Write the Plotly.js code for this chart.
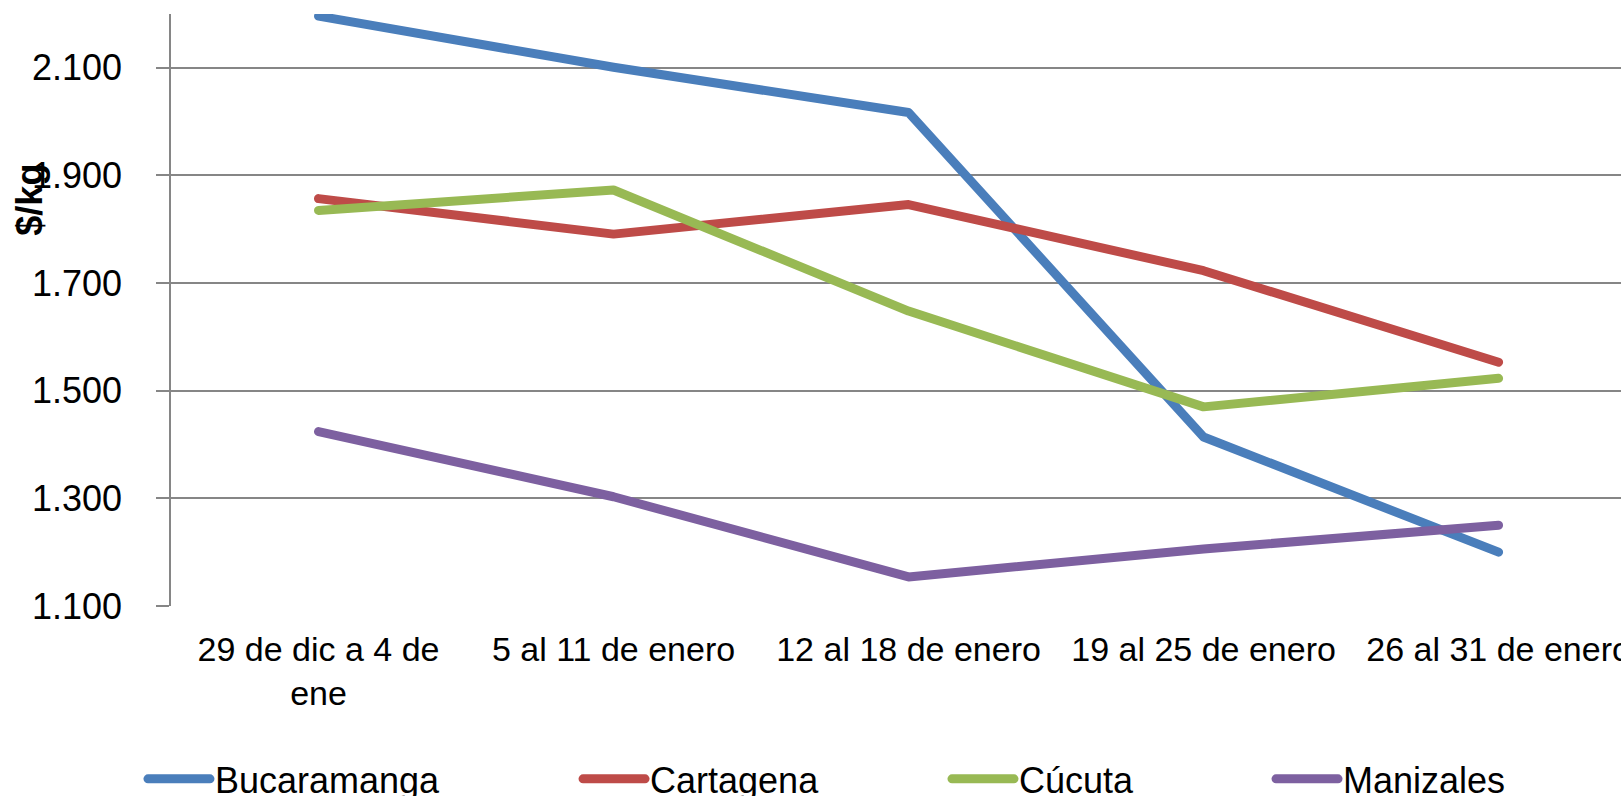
<!DOCTYPE html>
<html>
<head>
<meta charset="utf-8">
<script src="https://cdn.plot.ly/plotly-3.0.1.min.js"></script>
<style>
html, body { margin: 0; padding: 0; background: #ffffff; overflow: hidden; }
#chart { width: 1621px; height: 796px; }
.scatterlayer path.js-line, .legendlines path { stroke-linecap: round; stroke-linejoin: round; }
</style>
</head>
<body>
<div id="chart"></div>
<script>
// Categories (weeks)
const categories = [
  "29 de dic a 4 de<br>ene",
  "5 al 11 de enero",
  "12 al 18 de enero",
  "19 al 25 de enero",
  "26 al 31 de enero"
];

// Series values ($/kg)
const bucaramanga = [2196, 2101, 2017, 1414, 1200];
const cartagena   = [1857, 1791, 1846, 1723, 1553];
const cucuta      = [1835, 1873, 1648, 1470, 1523];
const manizales   = [1424, 1303, 1154, 1206, 1250];

const seriesNames = ["Bucaramanga", "Cartagena", "Cúcuta", "Manizales"];
const seriesColors = ["#4A7EBB", "#BE4B48", "#98B954", "#7D60A0"];
const seriesData = [bucaramanga, cartagena, cucuta, manizales];
const legendIds = ["legend", "legend2", "legend3", "legend4"];

// Y axis ticks
const yTicks = [1100, 1300, 1500, 1700, 1900, 2100];

const FONT = "Arial, 'Liberation Sans', sans-serif";

const traces = seriesData.map((vals, i) => ({
  type: "scatter",
  mode: "lines",
  name: seriesNames[i],
  x: categories,
  y: vals,
  line: { color: seriesColors[i], width: 9 },
  legend: legendIds[i],
  hoverinfo: "x+y+name"
}));

function legendAt(xContainer) {
  return {
    orientation: "h",
    xref: "container",
    yref: "container",
    x: xContainer,
    xanchor: "left",
    y: 0.0214,
    yanchor: "middle",
    itemwidth: 62,
    font: { family: FONT, size: 36, color: "#000000" },
    bgcolor: "rgba(0,0,0,0)",
    borderwidth: 0
  };
}

const layout = {
  width: 1621,
  height: 796,
  margin: { l: 171, r: 0, t: 14, b: 190.3, pad: 0, autoexpand: false },
  paper_bgcolor: "#ffffff",
  plot_bgcolor: "#ffffff",
  separators: ",.",
  showlegend: true,
  font: { family: FONT, color: "#000000" },
  xaxis: {
    type: "category",
    range: [-0.5, 4.415],
    automargin: false,
    showgrid: false,
    zeroline: false,
    showline: false,
    ticks: "",
    tickfont: { family: FONT, size: 34, color: "#000000" },
    ticklabelstandoff: 20,
    fixedrange: true
  },
  yaxis: {
    range: [1100, 2200],
    automargin: false,
    tickvals: yTicks,
    tickformat: ",d",
    showgrid: true,
    gridcolor: "#868686",
    gridwidth: 1.5,
    zeroline: false,
    showline: true,
    linecolor: "#868686",
    linewidth: 1.5,
    ticks: "outside",
    ticklen: 13,
    tickwidth: 1.5,
    tickcolor: "#868686",
    tickfont: { family: FONT, size: 36, color: "#000000" },
    ticklabelstandoff: 27,
    fixedrange: true
  },
  legend: legendAt(0.0882),
  legend2: legendAt(0.3566),
  legend3: legendAt(0.5842),
  legend4: legendAt(0.7841),
  annotations: [{
    text: "<b>$/kg</b>",
    xref: "paper", yref: "paper",
    x: -0.0972, y: 0.6865,
    xanchor: "center", yanchor: "middle",
    textangle: -90,
    showarrow: false,
    font: { family: FONT, size: 36, color: "#000000" }
  }]
};

Plotly.newPlot("chart", traces, layout, { displayModeBar: false, staticPlot: false, responsive: false });
</script>
</body>
</html>
